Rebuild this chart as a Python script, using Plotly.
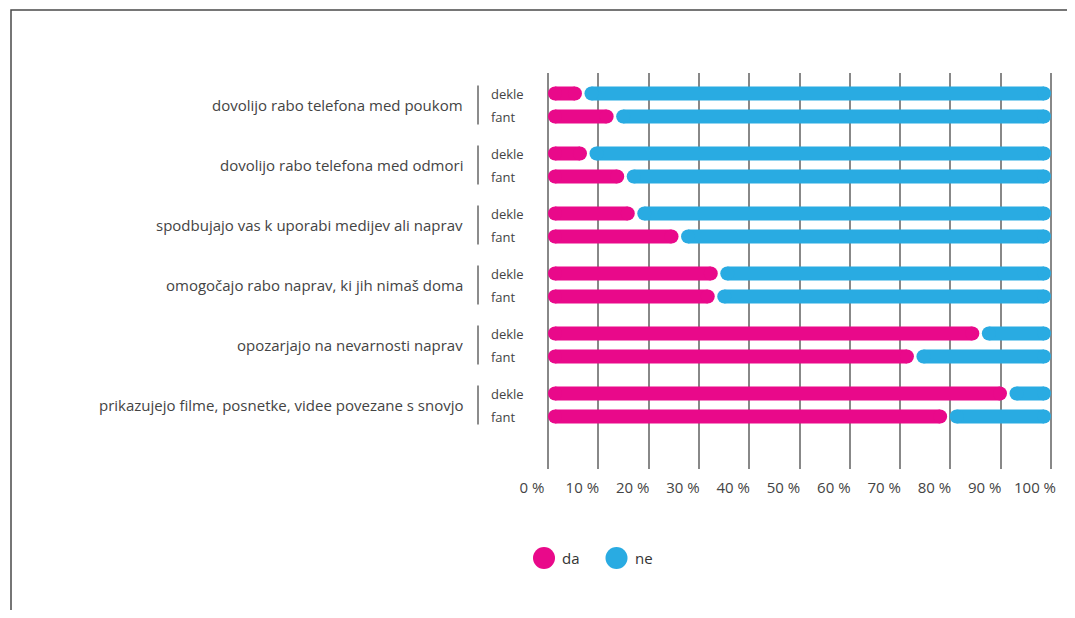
import plotly.graph_objects as go

categories = [
    "dovolijo rabo telefona med poukom",
    "dovolijo rabo telefona med odmori",
    "spodbujajo vas k uporabi medijev ali naprav",
    "omogočajo rabo naprav, ki jih nimaš doma",
    "opozarjajo na nevarnosti naprav",
    "prikazujejo filme, posnetke, videe povezane s snovjo",
]
groups = ["dekle", "fant"]
da_dekle = [7, 8, 17.5, 34, 86, 91.5]
da_fant = [13.3, 15.4, 26.2, 33.4, 73, 79.6]
series_names = ["da", "ne"]
tick_vals = [0, 10, 20, 30, 40, 50, 60, 70, 80, 90, 100]
tick_text = [f"{v} %" for v in tick_vals]

PINK = "#E9098A"
BLUE = "#29ABE2"
FONT = "Open Sans"

OFF = 8  # page body margin
PAD = 2  # px of padding so edge gridlines are drawn
W, H = 1075 - OFF, 618 - 2 * OFF
ML, MR, MT = 548 - OFF - PAD, 24 - PAD, 73 - OFF
MB = H - MT - (469 - 73)
PW = W - ML - MR
PH = H - MT - MB
UNIT = (PW - 2 * PAD) / 100.0  # px per percent
pad_u = PAD / UNIT
BAR_PX = 14
GAP_PX = 2.5
r = (BAR_PX / 2) / UNIT
g = (GAP_PX / 2) / UNIT


def row_y(i, j):
    return 20.5 + 60 * i + 23 * j


def px_x(p):  # screenshot pixel -> paper
    return (p - OFF - ML) / PW


def px_y(p):
    return (H - MB - (p - OFF)) / PH


fig = go.Figure()

for i in range(len(categories)):
    for j, vals in enumerate([da_dekle, da_fant]):
        v = vals[i]
        y = row_y(i, j)
        segs = [(0, v - g, PINK), (v + g, 100, BLUE)]
        for a, b, c in segs:
            fig.add_trace(go.Scatter(
                x=[a + r, b - r], y=[y, y], mode="lines+markers",
                line=dict(color=c, width=BAR_PX),
                marker=dict(color=c, size=BAR_PX, line=dict(width=0)),
                showlegend=False, hoverinfo="skip"))

annotations = []
shapes = []
for i, cat in enumerate(categories):
    yc = (row_y(i, 0) + row_y(i, 1)) / 2
    annotations.append(dict(
        text=cat, x=px_x(465), xref="paper", y=yc, yref="y", xanchor="right",
        yanchor="middle", showarrow=False,
        font=dict(family=FONT, size=15, color="#444")))
    for j, grp in enumerate(groups):
        annotations.append(dict(
            text=grp, x=px_x(489), xref="paper", y=row_y(i, j), yref="y",
            xanchor="left", yanchor="middle", showarrow=False,
            font=dict(family=FONT, size=13, color="#444")))
    shapes.append(dict(
        type="line", xref="paper", yref="y", x0=px_x(478), x1=px_x(478),
        y0=row_y(i, 0) - 8, y1=row_y(i, 1) + 8,
        line=dict(color="#666", width=1.5)))

# legend
for k, (name, c, cx) in enumerate([("da", PINK, 544), ("ne", BLUE, 616.5)]):
    cy = 558
    shapes.append(dict(
        type="circle", xref="paper", yref="paper",
        xsizemode="pixel", ysizemode="pixel",
        xanchor=px_x(cx), yanchor=px_y(cy),
        x0=-11, x1=11, y0=-11, y1=11,
        fillcolor=c, line=dict(width=0)))
    annotations.append(dict(
        text=name, x=px_x(cx + 16), xref="paper", y=px_y(cy), yref="paper",
        xanchor="left", yanchor="middle", showarrow=False,
        font=dict(family=FONT, size=15, color="#333")))

# frame
shapes.append(dict(
    type="rect", xref="paper", yref="paper",
    x0=px_x(11), x1=px_x(1300), y0=px_y(800), y1=px_y(10),
    line=dict(color="#4a4a4a", width=1.5), fillcolor="rgba(0,0,0,0)", layer="below"))

fig.update_layout(
    width=W, height=H, autosize=False,
    margin=dict(l=ML, r=MR, t=MT, b=MB, autoexpand=False),
    paper_bgcolor="white", plot_bgcolor="white",
    xaxis=dict(range=[-pad_u, 100 + pad_u], tickvals=tick_vals, ticktext=tick_text,
               showgrid=True, gridcolor="#888", gridwidth=1.5, automargin=False,
               zeroline=False, showline=False, ticks="", ticklabelstandoff=8,
               ticklabelshift=-16,
               tickfont=dict(family=FONT, size=15, color="#444"), fixedrange=True),
    yaxis=dict(range=[PH, 0], showticklabels=False, showgrid=False, automargin=False,
               zeroline=False, showline=False, fixedrange=True),
    annotations=annotations, shapes=shapes, showlegend=False,
)

fig.write_html("out.html", config={"responsive": False})
